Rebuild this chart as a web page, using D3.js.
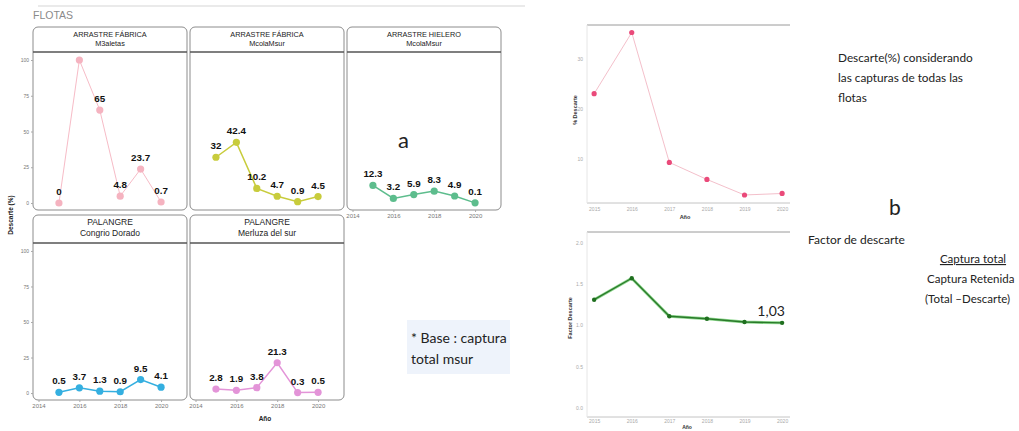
<!DOCTYPE html>
<html><head><meta charset="utf-8">
<script src="https://cdn.jsdelivr.net/npm/d3@7"></script>
<style>body{margin:0;background:#fff}svg{display:block}</style>
</head><body>
<script>
// ---------- data ----------
const years = [2015, 2016, 2017, 2018, 2019, 2020];
const facetXTicks = [2014, 2016, 2018, 2020];
const facetYTicks = [0, 25, 50, 75, 100];
const stripTop = ["ARRASTRE FÁBRICA", "ARRASTRE FÁBRICA", "ARRASTRE HIELERO", "PALANGRE", "PALANGRE"];
const stripBottom = ["M3aletas", "McolaMsur", "McolaMsur", "Congrio Dorado", "Merluza del sur"];
const afM3aletas = [0, 100, 65, 4.8, 23.7, 0.7];
const afMcolaMsur = [32, 42.4, 10.2, 4.7, 0.9, 4.5];
const ahMcolaMsur = [12.3, 3.2, 5.9, 8.3, 4.9, 0.1];
const palCongrio = [0.5, 3.7, 1.3, 0.9, 9.5, 4.1];
const palMerluza = [2.8, 1.9, 3.8, 21.3, 0.3, 0.5];
const facetColors = ["#f5b3c0", "#c8cc3c", "#5dbd8d", "#34afe0", "#e394d8"];
const descarteTotal = [23.1, 35.3, 9.4, 6.0, 2.9, 3.2];
const descarteTicks = [10, 20, 30];
const factorDescarte = [1.31, 1.57, 1.11, 1.08, 1.04, 1.03];
const factorTicks = [0, 0.5, 1.0, 1.5, 2.0];

const facetSeries = [afM3aletas, afMcolaMsur, ahMcolaMsur, palCongrio, palMerluza];

const W = 1019, H = 431;
const svg = d3.select("body").append("svg").attr("width", W).attr("height", H)
  .style("font-family", "'Liberation Sans', Arial, sans-serif");
const defs = svg.append("defs");

// ---------- left facet grid ----------
svg.append("line").attr("x1", 38).attr("x2", 525).attr("y1", 6).attr("y2", 6)
  .attr("stroke", "#d6d6d6").attr("stroke-width", 1.2);
svg.append("text").attr("x", 33).attr("y", 19).attr("fill", "#8a8a8a")
  .attr("font-size", 10.5).text("FLOTAS");

const colX = [33, 190, 347];
const panelW = 154;
const rows = [{stripTop: 27, plotTop: 52, plotBottom: 210}, {stripTop: 215, plotTop: 243, plotBottom: 400}];
const panels = [
  {c: 0, r: 0}, {c: 1, r: 0}, {c: 2, r: 0}, {c: 0, r: 1}, {c: 1, r: 1}
];

panels.forEach((p, i) => {
  const x0 = colX[p.c], x1 = x0 + panelW;
  const row = rows[p.r];
  const x = d3.scaleLinear().domain([2013.73, 2021.27]).range([x0, x1]);
  const y = d3.scaleLinear().domain([-4.9, 105.6]).range([row.plotBottom, row.plotTop]);
  const g = svg.append("g");
  const color = facetColors[i];
  const vals = facetSeries[i];
  const data = years.map((yr, k) => ({yr, v: vals[k]}));

  // panel frame
  g.append("rect").attr("x", x0).attr("y", row.stripTop).attr("width", panelW)
    .attr("height", row.plotBottom - row.stripTop).attr("rx", 5)
    .attr("fill", "#fff").attr("stroke", "#8c8c8c").attr("stroke-width", 1);
  // strip separator
  g.append("line").attr("x1", x0).attr("x2", x1).attr("y1", row.plotTop).attr("y2", row.plotTop)
    .attr("stroke", "#555").attr("stroke-width", 1.4);
  g.append("text").attr("x", (x0 + x1) / 2).attr("y", row.stripTop + (p.r ? 10 : 9.5))
    .attr("text-anchor", "middle").attr("font-size", p.r ? 8.5 : 7.3).attr("fill", "#222")
    .text(stripTop[i]);
  g.append("text").attr("x", (x0 + x1) / 2).attr("y", row.stripTop + (p.r ? 20.5 : 18.5))
    .attr("text-anchor", "middle").attr("font-size", p.r ? 8.5 : 7.3).attr("fill", "#222")
    .text(stripBottom[i]);

  const clipId = "clip" + i;
  defs.append("clipPath").attr("id", clipId).append("rect")
    .attr("x", x0).attr("y", row.plotTop + 1).attr("width", panelW).attr("height", row.plotBottom - row.plotTop);
  const pg = g.append("g").attr("clip-path", `url(#${clipId})`);
  pg.append("path").datum(data)
    .attr("d", d3.line().x(d => x(d.yr)).y(d => y(d.v)))
    .attr("fill", "none").attr("stroke", color).attr("stroke-width", i === 0 ? 0.9 : 1.5);
  pg.selectAll("circle").data(data).join("circle")
    .attr("cx", d => x(d.yr)).attr("cy", d => y(d.v)).attr("r", 3.6).attr("fill", color);
  pg.selectAll("text.lbl").data(data).join("text").attr("class", "lbl")
    .attr("x", d => x(d.yr)).attr("y", d => y(d.v) - 8)
    .attr("text-anchor", "middle").attr("font-size", 9.8).attr("font-weight", "bold").attr("fill", "#111")
    .text(d => d.v);

  // y axis on left column
  if (p.c === 0) {
    const ya = d3.axisLeft(y).tickValues(facetYTicks).tickSize(2).tickPadding(2);
    const ag = svg.append("g").attr("transform", `translate(${x0},0)`).call(ya);
    ag.select(".domain").remove();
    ag.selectAll("line").attr("stroke", "#aaa");
    ag.selectAll("text").attr("font-size", 5).attr("fill", "#777");
  }
  // x axis for bottom-most panels
  if (p.r === 1 || p.c === 2) {
    const xa = d3.axisBottom(x).tickValues(facetXTicks).tickFormat(d3.format("d")).tickSize(2).tickPadding(2);
    const ag = svg.append("g").attr("transform", `translate(0,${row.plotBottom})`).call(xa);
    ag.select(".domain").remove();
    ag.selectAll("line").attr("stroke", "#aaa");
    ag.selectAll("text").attr("font-size", 6).attr("fill", "#777");
  }
});

svg.append("text").attr("transform", "translate(13,215) rotate(-90)").attr("text-anchor", "middle")
  .attr("font-size", 6.5).attr("font-weight", "bold").attr("fill", "#222").text("Descarte (%)");
svg.append("text").attr("x", 265).attr("y", 421).attr("text-anchor", "middle")
  .attr("font-size", 6.5).attr("font-weight", "bold").attr("fill", "#222").text("Año");

// annotations
const annF = "Lato, 'Open Sans', sans-serif";
svg.append("text").attr("x", 398).attr("y", 148).attr("font-size", 22)
  .attr("font-family", annF).attr("fill", "#222").text("a");
svg.append("rect").attr("x", 407).attr("y", 320).attr("width", 103).attr("height", 54)
  .attr("fill", "#eef3fb");
svg.append("text").attr("x", 411).attr("y", 343).attr("font-size", 14)
  .attr("font-family", annF).attr("fill", "#222").text("* Base : captura");
svg.append("text").attr("x", 411).attr("y", 364).attr("font-size", 14)
  .attr("font-family", annF).attr("fill", "#222").text("total msur");

// ---------- right charts ----------
const rx = d3.scaleLinear().domain([2014.81, 2020.21]).range([587, 790]);

function frameLines(top, bottom) {
  svg.append("line").attr("x1", 587).attr("x2", 790).attr("y1", top).attr("y2", top)
    .attr("stroke", "#9a9a9a").attr("stroke-width", 1);
  svg.append("line").attr("x1", 587).attr("x2", 790).attr("y1", bottom).attr("y2", bottom)
    .attr("stroke", "#c4c4c4").attr("stroke-width", 1);
  svg.append("line").attr("x1", 587).attr("x2", 587).attr("y1", top).attr("y2", bottom)
    .attr("stroke", "#e6e6e6").attr("stroke-width", 1);
}

// top: descarte total
const ry1 = d3.scaleLinear().domain([1.3, 36.8]).range([203, 25]);
frameLines(25, 203);
{
  const ya = d3.axisLeft(ry1).tickValues(descarteTicks).tickSize(0).tickPadding(4);
  const ag = svg.append("g").attr("transform", "translate(587,0)").call(ya);
  ag.select(".domain").remove();
  ag.selectAll("text").attr("font-size", 5).attr("fill", "#aaa");
  const xa = d3.axisBottom(rx).tickValues(years).tickFormat(d3.format("d")).tickSize(0).tickPadding(4);
  const xg = svg.append("g").attr("transform", "translate(0,203)").call(xa);
  xg.select(".domain").remove();
  xg.selectAll("text").attr("font-size", 5).attr("fill", "#aaa");
  const data = years.map((yr, k) => ({yr, v: descarteTotal[k]}));
  svg.append("path").datum(data)
    .attr("d", d3.line().x(d => rx(d.yr)).y(d => ry1(d.v)))
    .attr("fill", "none").attr("stroke", "#f2b8c4").attr("stroke-width", 0.9);
  svg.selectAll("circle.dt").data(data).join("circle").attr("class", "dt")
    .attr("cx", d => rx(d.yr)).attr("cy", d => ry1(d.v)).attr("r", 2.6).attr("fill", "#ea4a7a");
  svg.append("text").attr("transform", "translate(577,110) rotate(-90)").attr("text-anchor", "middle")
    .attr("font-size", 5.5).attr("font-weight", "bold").attr("fill", "#333").text("% Descarte");
  svg.append("text").attr("x", 685).attr("y", 219).attr("text-anchor", "middle")
    .attr("font-size", 5.5).attr("font-weight", "bold").attr("fill", "#333").text("Año");
}

// bottom: factor de descarte
const ry2 = d3.scaleLinear().domain([-0.11, 2.13]).range([417, 232]);
frameLines(232, 417);
{
  const ya = d3.axisLeft(ry2).tickValues(factorTicks).tickFormat(d3.format(".1f")).tickSize(0).tickPadding(4);
  const ag = svg.append("g").attr("transform", "translate(587,0)").call(ya);
  ag.select(".domain").remove();
  ag.selectAll("text").attr("font-size", 5).attr("fill", "#aaa");
  const xa = d3.axisBottom(rx).tickValues(years).tickFormat(d3.format("d")).tickSize(0).tickPadding(3);
  const xg = svg.append("g").attr("transform", "translate(0,416)").call(xa);
  xg.select(".domain").remove();
  xg.selectAll("text").attr("font-size", 5).attr("fill", "#aaa");
  const data = years.map((yr, k) => ({yr, v: factorDescarte[k]}));
  const ln = d3.line().x(d => rx(d.yr)).y(d => ry2(d.v));
  svg.append("path").datum(data).attr("d", ln)
    .attr("fill", "none").attr("stroke", "#8fd88f").attr("stroke-width", 3);
  svg.append("path").datum(data).attr("d", ln)
    .attr("fill", "none").attr("stroke", "#2a7a2a").attr("stroke-width", 1.4);
  svg.selectAll("circle.fd").data(data).join("circle").attr("class", "fd")
    .attr("cx", d => rx(d.yr)).attr("cy", d => ry2(d.v)).attr("r", 2.2).attr("fill", "#1f6f1f");
  svg.append("text").attr("x", rx(2020) - 11).attr("y", ry2(factorDescarte[5]) - 7).attr("text-anchor", "middle")
    .attr("font-size", 14).attr("font-family", annF).attr("fill", "#222")
    .text(String(factorDescarte[5]).replace(".", ","));
  svg.append("text").attr("transform", "translate(572,318) rotate(-90)").attr("text-anchor", "middle")
    .attr("font-size", 5.5).attr("font-weight", "bold").attr("fill", "#333").text("Factor Descarte");
  svg.append("text").attr("x", 687).attr("y", 428.5).attr("text-anchor", "middle")
    .attr("font-size", 5).attr("font-weight", "bold").attr("fill", "#333").text("Año");
}

// right annotations
[["Descarte(%) considerando", 62], ["las capturas de todas las", 82], ["flotas", 102]].forEach(([t, yy]) => {
  svg.append("text").attr("x", 838).attr("y", yy).attr("font-size", 11.8).attr("font-family", annF)
    .attr("fill", "#222").text(t);
});
svg.append("text").attr("x", 889).attr("y", 215).attr("font-size", 21).attr("font-family", annF)
  .attr("fill", "#222").text("b");
svg.append("text").attr("x", 808).attr("y", 244).attr("font-size", 12).attr("font-family", annF)
  .attr("fill", "#222").text("Factor de descarte");
svg.append("text").attr("x", 973).attr("y", 263).attr("text-anchor", "middle").attr("font-size", 11.5)
  .attr("font-family", annF).attr("text-decoration", "underline").attr("fill", "#222").text("Captura total");
svg.append("text").attr("x", 927).attr("y", 283).attr("font-size", 11.5).attr("font-family", annF)
  .attr("fill", "#222").text("Captura Retenida");
svg.append("text").attr("x", 925).attr("y", 303).attr("font-size", 11.5).attr("font-family", annF)
  .attr("fill", "#222").text("(Total –Descarte)");
</script>
</body></html>
